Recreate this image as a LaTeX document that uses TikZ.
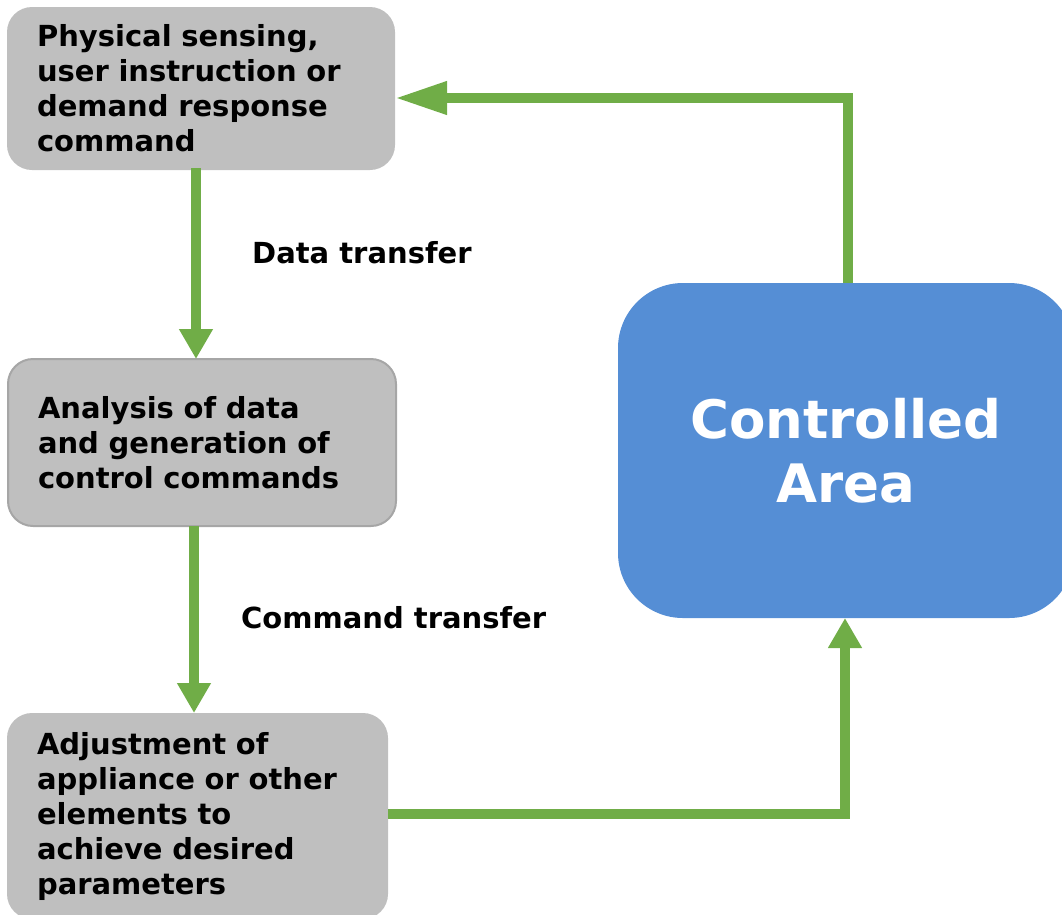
\documentclass[tikz,border=0pt]{standalone}
\usepackage{fontspec}
\setmainfont{DejaVu Sans}
\usetikzlibrary{arrows.meta}
\definecolor{boxgray}{HTML}{BFBFBF}
\definecolor{edgegray}{HTML}{A6A6A6}
\definecolor{areablue}{HTML}{558ED5}
\definecolor{flowgreen}{HTML}{70AD47}
\tikzset{
  stepbox/.style={fill=boxgray, rounded corners=25pt, minimum width=388pt,
    inner xsep=30pt, inner ysep=0pt, text width=328pt, align=left, outer sep=0pt,
    font=\bfseries\fontsize{29}{35}\selectfont, anchor=north west},
  areabox/.style={fill=areablue, rounded corners=65pt, minimum width=456pt,
    minimum height=335pt, text=white, align=center, outer sep=0pt,
    font=\bfseries\fontsize{53}{64}\selectfont, anchor=north west},
  flowlabel/.style={font=\bfseries\fontsize{29}{35}\selectfont, anchor=west, inner sep=0pt},
  flow/.style={draw=flowgreen, line width=10pt,
    -{Triangle[width=32pt,length=30pt]}},
  longflow/.style={draw=flowgreen, line width=10pt,
    -{Triangle[width=31pt,length=52pt]}}
}
\begin{document}
\begin{tikzpicture}[x=1pt,y=-1pt]
\useasboundingbox (0,0) rectangle (1062,914);
\begin{scope}
\clip (0,0) rectangle (1062,914);
\node[stepbox, minimum height=163pt] (sense) at (7,7)
  {Physical sensing,\\user instruction or\\demand response\\command};
\node[stepbox, minimum height=167pt, draw=edgegray, line width=2pt] (analysis) at (8,359)
  {Analysis of data\\and generation of\\control commands};
\node[stepbox, minimum height=206pt, minimum width=381pt, text width=321pt] (adjust) at (7,713)
  {Adjustment of\\appliance or other\\elements to\\achieve desired\\parameters};
\node[areabox] (area) at (618,283) {Controlled\\Area};
\end{scope}

\node[flowlabel] (datalbl) at (252,253) {Data transfer};
\node[flowlabel] (cmdlbl) at (241,618) {Command transfer};

% vertical flow on the left
\coordinate (firstdrop) at (196,0);
\coordinate (seconddrop) at (194,0);
\draw[flow] ([yshift=2pt]sense.south -| firstdrop) -- (analysis.north -| firstdrop);
\draw[flow] (analysis.south -| seconddrop) -- (adjust.north -| seconddrop);

% loop through the controlled area
\coordinate (lowcorner) at (845,814);
\coordinate (topcorner) at (848,98);
\draw[flow] (adjust.east |- lowcorner) -- (lowcorner) -- (lowcorner |- area.south);
\draw[longflow] (topcorner |- area.north) -- (topcorner) -- (sense.east |- topcorner);
\end{tikzpicture}
\end{document}
